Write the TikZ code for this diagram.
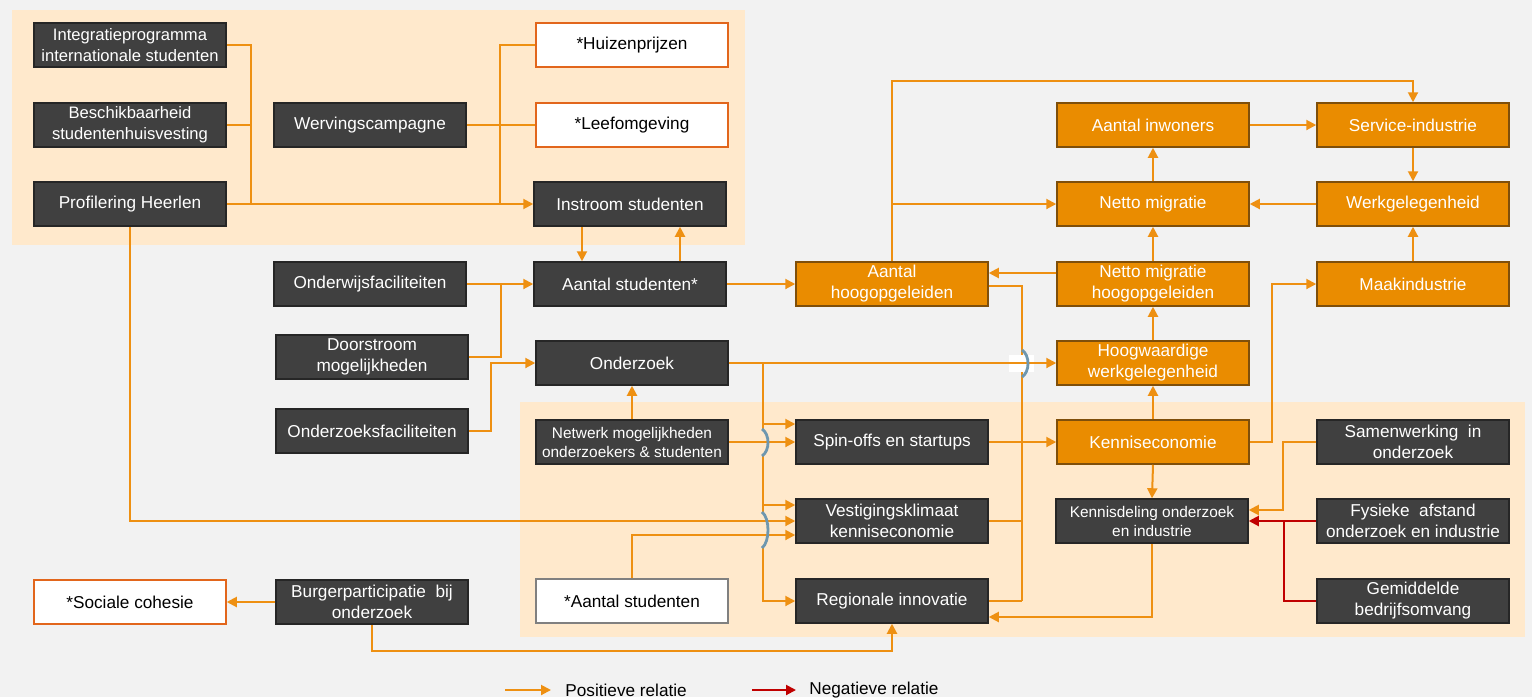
\documentclass[tikz,border=0pt]{standalone}
\usepackage{fontspec}
\setmainfont{Liberation Sans}
\usetikzlibrary{arrows.meta,calc}
\definecolor{bgc}{HTML}{F2F2F2}
\definecolor{panelc}{HTML}{FFE9CC}
\definecolor{darkc}{HTML}{404040}
\definecolor{darkb}{HTML}{262626}
\definecolor{orc}{HTML}{EA8C00}
\definecolor{orb}{HTML}{7F4F0A}
\definecolor{lnc}{HTML}{EE9012}
\definecolor{redc}{HTML}{C00000}
\definecolor{wbord}{HTML}{E2661C}
\definecolor{gbord}{HTML}{808080}
\definecolor{brc}{HTML}{6E97AF}
\tikzset{
 box/.style={minimum width=96pt, minimum height=22pt, inner sep=1pt, align=center, line width=0.75pt, font=\fontsize{8.6}{10.5}\selectfont},
 dk/.style={box, fill=darkc, draw=darkb, text=white},
 ob/.style={box, fill=orc, draw=orb, text=white},
 wb/.style={box, fill=white, draw=wbord, text=black},
 gb/.style={box, fill=white, draw=gbord, text=black},
 sm/.style={font=\fontsize{7.7}{9.5}\selectfont},
 md/.style={font=\fontsize{8.3}{10.3}\selectfont},
 ln/.style={draw=lnc, line width=1pt},
 arr/.style={ln, -{Triangle[length=5pt,width=5pt]}},
 neg/.style={draw=redc, line width=1pt},
 nar/.style={neg, -{Triangle[length=5pt,width=5pt]}},
 brg/.style={draw=brc, line width=1.4pt},
 legtxt/.style={font=\fontsize{8.6}{10.5}\selectfont, text=black, inner sep=0pt, anchor=west},
}
\begin{document}
\begin{tikzpicture}[x=0.5pt,y=-0.5pt]
\fill[bgc] (0,0) rectangle (1532,697);
\useasboundingbox (0,0) rectangle (1532,697);
\fill[panelc] (12,10) rectangle (745,245);
\fill[panelc] (520,402) rectangle (1525,637);

% nodes
\node[dk,md] (integ) at (130,45) {Integratieprogramma\\internationale studenten};
\node[dk,md] (besch) at (130,125) {Beschikbaarheid\\studentenhuisvesting};
\node[dk] (prof) at (130,204) {Profilering Heerlen};
\node[dk] (werv) at (370,125) {Wervingscampagne};
\node[wb] (huiz) at (632,45) {*Huizenprijzen};
\node[wb] (leef) at (632,125) {*Leefomgeving};
\node[dk] (instr) at (630,204) {Instroom studenten};
\node[dk] (onderw) at (370,284) {Onderwijsfaciliteiten};
\node[dk] (doorst) at (372,357) {Doorstroom\\mogelijkheden};
\node[dk] (ozfac) at (372,431) {Onderzoeksfaciliteiten};
\node[dk] (aantst) at (630,284) {Aantal studenten*};
\node[dk] (onderz) at (632,363) {Onderzoek};
\node[dk,sm] (netw) at (632,442) {Netwerk mogelijkheden\\onderzoekers \& studenten};
\node[dk] (spin) at (892,442) {Spin-offs en startups};
\node[dk] (vest) at (892,521) {Vestigingsklimaat\\kenniseconomie};
\node[gb] (aantst2) at (632,601) {*Aantal studenten};
\node[dk] (regio) at (892,601) {Regionale innovatie};
\node[ob] (hoog) at (892,284) {Aantal\\hoogopgeleiden};
\node[ob] (inw) at (1153,125) {Aantal inwoners};
\node[ob] (serv) at (1413,125) {Service-industrie};
\node[ob] (netmig) at (1153,204) {Netto migratie};
\node[ob] (werk) at (1413,204) {Werkgelegenheid};
\node[ob] (nmh) at (1153,284) {Netto migratie\\hoogopgeleiden};
\node[ob] (maak) at (1413,284) {Maakindustrie};
\node[ob] (hwg) at (1153,363) {Hoogwaardige\\werkgelegenheid};
\node[ob] (kec) at (1153,442) {Kenniseconomie};
\node[dk,sm] (kdel) at (1152,521) {Kennisdeling onderzoek\\en industrie};
\node[dk] (samw) at (1413,442) {Samenwerking\ \ in\\onderzoek};
\node[dk] (fys) at (1413,521) {Fysieke\ \ afstand\\onderzoek en industrie};
\node[dk] (gem) at (1413,601) {Gemiddelde\\bedrijfsomvang};
\node[wb] (soc) at (130,602) {*Sociale cohesie};
\node[dk] (burg) at (372,602) {Burgerparticipatie\ \ bij\\onderzoek};

% junction coordinates
\coordinate (jA) at (251,204);
\coordinate (jB) at (500,204);
\coordinate (jC) at (501,284);
\coordinate (jD) at (762,601);
\coordinate (jE) at (1022,601);
\coordinate (jF) at (1284,521);
\coordinate (spinU) at ([yshift=9pt]spin.west);
\coordinate (vestU) at ([yshift=8pt]vest.west);
\coordinate (vestL) at ([yshift=-7pt]vest.west);
\coordinate (hoogO) at ([yshift=-1pt]hoog.east);
\coordinate (nmhL) at ([yshift=5.5pt]nmh.west);
\coordinate (kdelU) at ([yshift=5.5pt]kdel.east);
\coordinate (regioL) at ([yshift=-8pt]regio.east);

% top panel
\draw[ln] (integ.east) -| (jA);
\draw[ln] (besch.east) -- (besch.east -| jA);
\draw[ln] (werv.east) -- (leef.west);
\draw[ln] (huiz.west) -| (jB);
\draw[arr] (prof.east) -- (instr.west);
\draw[arr] ([xshift=-24pt]instr.south) -- ([xshift=-24pt]instr.south |- aantst.north);
\draw[arr] ([xshift=25pt]aantst.north) -- ([xshift=25pt]aantst.north |- instr.south);

% left inputs
\draw[arr] (onderw.east) -- (aantst.west);
\draw[ln] (doorst.east) -| (jC);
\draw[arr] (ozfac.east) -- ++(22,0) |- (onderz.west);
\draw[arr] (netw.north) -- (onderz.south);
\draw[arr] (aantst.east) -- (hoog.west);

% bus from Aantal hoogopgeleiden etc. at x=1022
\draw[ln] (hoogO) -| (jE);
\draw[ln] (regio.east) -- (jE);
\draw[ln] (vest.east) -- (vest.east -| jE);

% onderzoek bus at x=762
\draw[arr] (onderz.east) -- ++(34,0) |- (regio.west);
\draw[arr] (spinU -| jD) -- (spinU);
\draw[arr] (vestU -| jD) -- (vestU);

% covers for bridges
\draw[panelc, line width=2pt] (762,430) -- (762,455);
\draw[panelc, line width=2pt] (762,513) -- (762,547);
\fill[white] (1009,355) rectangle (1034,372);

\draw[arr] (netw.east) -- (spin.west);
\draw[arr] (prof.south) |- (vest.west);
\draw[arr] (aantst2.north) |- (vestL);
\draw[arr] (onderz.east) -- (hwg.west);

% bridges
\draw[brg] (762,429) .. controls (770,434) and (770,451) .. (762,456);
\draw[brg] (762,512) .. controls (770,518) and (770,542) .. (762,548);
\draw[brg] (1022,350) .. controls (1030,355) and (1030,372) .. (1022,377);

% right part
\draw[arr] (spin.east) -- (kec.west);
\draw[arr] (kec.north) -- (hwg.south);
\draw[arr] (kec.south) -- (kdel.north);
\draw[arr] (kec.east) -- ++(22,0) |- (maak.west);
\draw[arr] (hwg.north) -- (nmh.south);
\draw[arr] (nmh.north) -- (netmig.south);
\draw[arr] (netmig.north) -- (inw.south);
\draw[arr] (nmhL) -- (nmhL -| hoog.east);
\draw[arr] (inw.east) -- (serv.west);
\draw[arr] (serv.south) -- (werk.north);
\draw[arr] (werk.west) -- (netmig.east);
\draw[arr] (maak.north) -- (werk.south);
\draw[arr] (hoog.north) -- ++(0,-180) -| (serv.north);
\draw[arr] (hoog.north |- netmig.west) -- (netmig.west);
\draw[arr] (samw.west) -- ++(-33,0) |- (kdelU);
\draw[neg] (gem.west) -| (jF);
\draw[nar] (fys.west) -- (fys.west -| kdel.east);
\draw[arr] (kdel.south) |- (regioL);

% bottom left
\draw[arr] (burg.west) -- (soc.east);
\draw[arr] (burg.south) -- ++(0,26) -| (regio.south);

% legend
\node[legtxt] (lp) at (565,690) {Positieve relatie};
\node[legtxt] (ln) at (809,690) {Negatieve relatie};
\draw[arr] ([xshift=-30pt]lp.west) -- ([xshift=-7pt]lp.west);
\draw[nar] ([xshift=-28.5pt]ln.west) -- ([xshift=-6.5pt]ln.west);
\end{tikzpicture}
\end{document}
